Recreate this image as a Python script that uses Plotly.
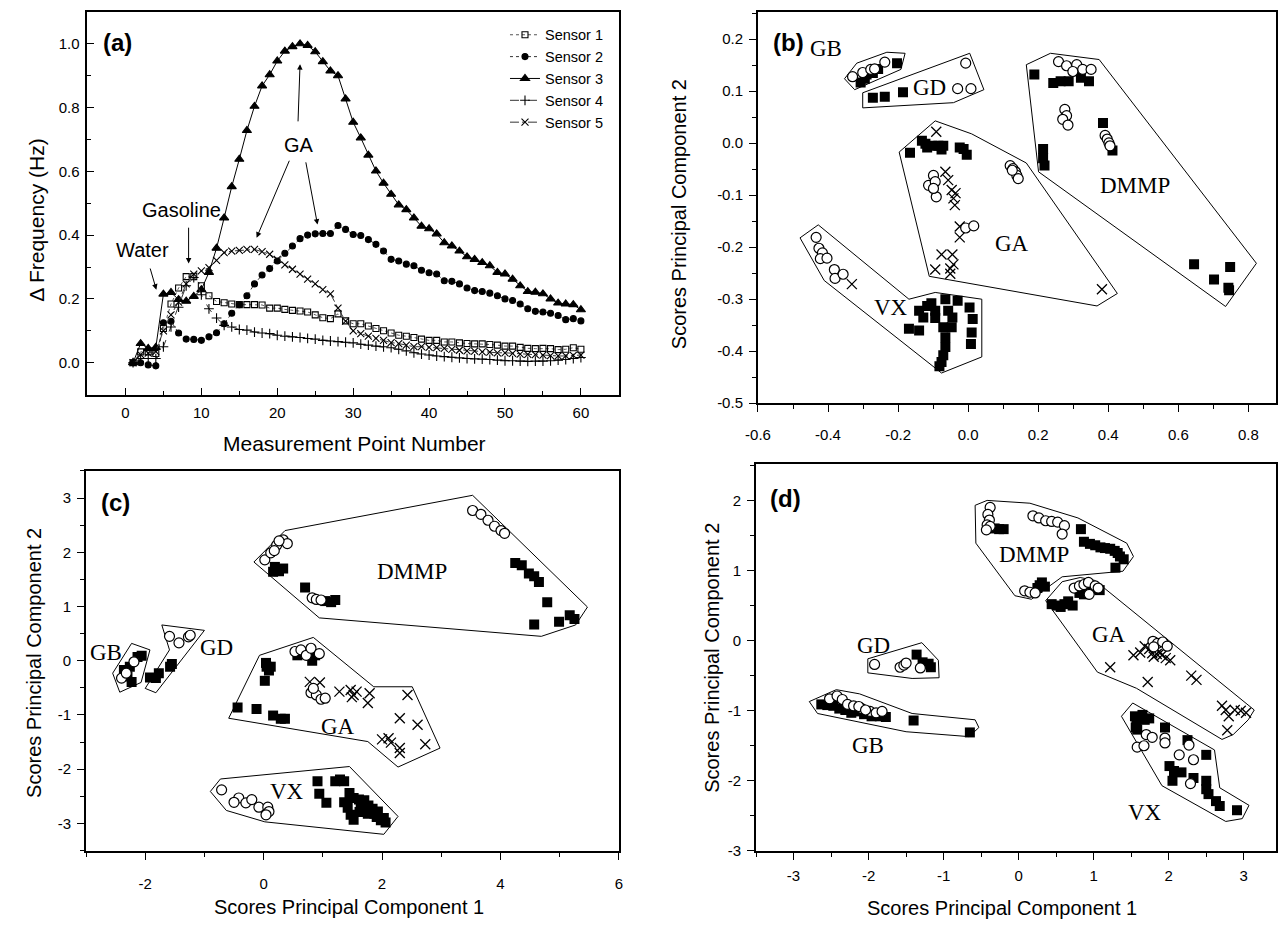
import numpy as np
import plotly.graph_objects as go

W, H = 1282, 926
SANS = "Liberation Sans, Arial, sans-serif"
SERIF = "Liberation Serif, Times New Roman, serif"

# ---------------- (a) sensor responses ----------------
POINTS = list(range(1, 61))
SENSOR_1 = [0, 0.034, 0.034, 0.029, 0.107, 0.184, 0.234, 0.27, 0.27, 0.241,
            0.21, 0.192, 0.188, 0.184, 0.182, 0.182, 0.182, 0.181, 0.171, 0.171,
            0.167, 0.164, 0.162, 0.159, 0.15, 0.141, 0.138, 0.153, 0.131, 0.122,
            0.122, 0.115, 0.107, 0.1, 0.093, 0.086, 0.083, 0.079, 0.074, 0.07,
            0.07, 0.065, 0.065, 0.062, 0.06, 0.059, 0.059, 0.057, 0.055, 0.052,
            0.052, 0.048, 0.045, 0.044, 0.045, 0.044, 0.041, 0.042, 0.047, 0.042]
SENSOR_2 = [0, 0, -0.007, -0.01, 0.125, 0.13, 0.093, 0.074, 0.073, 0.07,
            0.081, 0.094, 0.122, 0.155, 0.182, 0.21, 0.247, 0.275, 0.295, 0.319,
            0.343, 0.366, 0.389, 0.40, 0.404, 0.405, 0.405, 0.43, 0.418, 0.402,
            0.399, 0.386, 0.371, 0.35, 0.324, 0.319, 0.309, 0.304, 0.29, 0.282,
            0.278, 0.257, 0.255, 0.247, 0.234, 0.226, 0.223, 0.218, 0.21, 0.2,
            0.195, 0.184, 0.169, 0.161, 0.159, 0.155, 0.148, 0.135, 0.138, 0.131]
SENSOR_3 = [0, 0.06, 0.045, 0.048, 0.215, 0.22, 0.198, 0.193, 0.208, 0.229,
            0.283, 0.359, 0.454, 0.552, 0.638, 0.728, 0.804, 0.868, 0.903, 0.946,
            0.977, 0.991, 1.0, 0.995, 0.975, 0.944, 0.915, 0.90, 0.827, 0.754,
            0.705, 0.651, 0.601, 0.563, 0.528, 0.495, 0.48, 0.454, 0.428, 0.42,
            0.404, 0.376, 0.366, 0.35, 0.332, 0.324, 0.314, 0.304, 0.283, 0.278,
            0.262, 0.241, 0.223, 0.221, 0.216, 0.2, 0.187, 0.184, 0.182, 0.166]
SENSOR_4 = [0, 0.013, 0.013, 0.013, 0.05, 0.112, 0.174, 0.241, 0.267, 0.213,
            0.169, 0.14, 0.117, 0.112, 0.104, 0.102, 0.096, 0.093, 0.091, 0.086,
            0.083, 0.081, 0.079, 0.076, 0.074, 0.07, 0.068, 0.066, 0.064, 0.062,
            0.058, 0.055, 0.052, 0.05, 0.047, 0.042, 0.037, 0.031, 0.027, 0.024,
            0.021, 0.019, 0.017, 0.015, 0.013, 0.012, 0.011, 0.01, 0.008, 0.006,
            0.006, 0.005, 0.004, 0.005, 0.005, 0.006, 0.008, 0.01, 0.013, 0.016]
SENSOR_5 = [0, 0.025, 0.03, 0.035, 0.1, 0.15, 0.19, 0.247, 0.278, 0.288,
            0.298, 0.321, 0.345, 0.35, 0.352, 0.355, 0.355, 0.348, 0.34, 0.324,
            0.307, 0.293, 0.278, 0.262, 0.247, 0.229, 0.216, 0.171, 0.13, 0.10,
            0.091, 0.083, 0.076, 0.07, 0.063, 0.06, 0.055, 0.05, 0.05, 0.048,
            0.047, 0.045, 0.042, 0.039, 0.037, 0.036, 0.034, 0.033, 0.031, 0.031,
            0.029, 0.027, 0.026, 0.025, 0.024, 0.022, 0.021, 0.021, 0.023, 0.024]

# ---------------- (b) PCA scores ----------------
B_CIRCLE_X = [-0.330, -0.301, -0.278, -0.238, -0.267,
              -0.007, -0.030, 0.008,
              0.120, 0.128, 0.135, 0.139, 0.143, 0.126, -0.113, -0.099, -0.094, -0.091, -0.099, -0.007, 0.016,
              0.258, 0.281, 0.310, 0.327, 0.351, 0.299, 0.276, 0.281, 0.270, 0.285, 0.391, 0.397, 0.402, 0.405,
              -0.434, -0.426, -0.416, -0.422, -0.403, -0.382, -0.380, -0.357]
B_CIRCLE_Y = [0.128, 0.136, 0.142, 0.156, 0.143,
              0.154, 0.105, 0.105,
              -0.043, -0.049, -0.055, -0.062, -0.068, -0.052, -0.081, -0.062, -0.074, -0.103, -0.087, -0.163, -0.159,
              0.157, 0.149, 0.151, 0.142, 0.142, 0.138, 0.065, 0.053, 0.046, 0.035, 0.015, 0.008, 0.0005, -0.005,
              -0.181, -0.202, -0.211, -0.222, -0.221, -0.243, -0.260, -0.252]
B_SQUARE_X = [-0.307, -0.290, -0.272, -0.257, -0.203, -0.295,
              -0.272, -0.238, -0.186,
              -0.166, -0.132, -0.117, -0.102, -0.085, -0.071, -0.024, -0.013, -0.004, -0.122, -0.076,
              0.189, 0.243, 0.264, 0.287, 0.322, 0.345, 0.385, 0.412, 0.214, 0.214, 0.218, 0.645, 0.702, 0.748, 0.745, 0.743,
              -0.169, -0.140, -0.117, -0.105, -0.065, -0.030, 0.004, 0.013, 0.010, 0.008, -0.140, -0.128, -0.094,
              -0.071, -0.065, -0.065, -0.071, -0.076, -0.082, -0.047, -0.045, -0.057, -0.094]
B_SQUARE_Y = [0.117, 0.132, 0.135, 0.143, 0.154, 0.124,
              0.0876, 0.0895, 0.098,
              -0.0185, 0.005, -0.008, -0.005, -0.005, -0.005, -0.008, -0.011, -0.022, -0.001, -0.012,
              0.132, 0.116, 0.119, 0.119, 0.126, 0.119, 0.039, -0.014, -0.011, -0.029, -0.043, -0.233, -0.262, -0.238, -0.283, -0.278,
              -0.357, -0.322, -0.313, -0.308, -0.300, -0.303, -0.316, -0.338, -0.364, -0.386, -0.360, -0.335, -0.336,
              -0.354, -0.373, -0.392, -0.408, -0.421, -0.429, -0.354, -0.335, -0.322, -0.322]
B_CROSS_X = [-0.091, -0.065, -0.057, -0.047, -0.042, -0.038, -0.024, -0.024, -0.076, -0.094,
             -0.045, -0.042, -0.051, -0.051, 0.382, -0.036, -0.332]
B_CROSS_Y = [0.022, -0.055, -0.071, -0.090, -0.106, -0.119, -0.160, -0.181, -0.214, -0.243,
             -0.214, -0.233, -0.241, -0.251, -0.281, -0.096, -0.271]
B_HULL_GB = [(-0.353, 0.124), (-0.318, 0.154), (-0.232, 0.175), (-0.180, 0.173), (-0.192, 0.142), (-0.324, 0.103)]
B_HULL_GD = [(-0.301, 0.097), (0.0045, 0.173), (0.045, 0.103), (-0.042, 0.078), (-0.301, 0.068)]
B_HULL_GA = [(-0.197, -0.017), (-0.094, 0.043), (0.010, 0.018), (0.166, -0.038), (0.426, -0.289),
             (0.368, -0.313), (-0.111, -0.256)]
B_HULL_DMMP = [(0.166, 0.151), (0.235, 0.173), (0.374, 0.161), (0.823, -0.231), (0.735, -0.314), (0.201, -0.055)]
B_HULL_VX = [(-0.480, -0.182), (-0.428, -0.157), (-0.169, -0.300), (-0.094, -0.287), (0.039, -0.300),
             (0.039, -0.411), (-0.076, -0.442), (-0.411, -0.264)]
B_LABELS = [("GB", -0.405, 0.183), ("GD", -0.111, 0.108), ("GA", 0.126, -0.192),
            ("DMMP", 0.477, -0.081), ("VX", -0.220, -0.316)]

# ---------------- (c) PCA scores ----------------
C_CIRCLE_X = [0.02, 0.12, 0.22, 0.33, 0.40, 0.26, 0.18, 0.82, 0.89, 0.97,
              3.53, 3.67, 3.79, 3.90, 4.01, 4.07,
              -2.40, -2.32, -2.19,
              -1.59, -1.43, -1.27, -1.24,
              0.53, 0.63, 0.72, 0.80, 0.94, 0.80, 0.89, 0.97, 1.04, 0.84,
              -0.71, -0.42, -0.30, -0.20, -0.08, 0.07, 0.09, 0.04, -0.50]
C_CIRCLE_Y = [1.86, 1.99, 2.13, 2.23, 2.16, 2.21, 2.03, 1.16, 1.13, 1.12,
              2.77, 2.70, 2.59, 2.48, 2.40, 2.35,
              -0.32, -0.23, -0.02,
              0.45, 0.33, 0.44, 0.47,
              0.17, 0.20, 0.10, 0.23, 0.13, -0.59, -0.63, -0.71, -0.69, -0.51,
              -2.38, -2.53, -2.62, -2.56, -2.70, -2.70, -2.78, -2.84, -2.61]
C_SQUARE_X = [0.19, 0.26, 0.33, 0.16, 0.70, 1.04, 1.14, 1.21,
              4.25, 4.36, 4.48, 4.57, 4.65, 4.79, 4.57, 4.99, 5.17, 5.25,
              -2.36, -2.26, -2.13, -2.06, -2.23, -2.30,
              -1.92, -1.82, -1.58, -1.55, -1.77,
              -0.44, -0.12, 0.16, 0.29, 0.36, 0.02, 0.05, 0.09, 0.04, 0.12, 0.57, 0.61, 0.82, 0.87,
              0.91, 0.94, 1.06, 1.21, 1.29, 1.36, 1.45, 1.52, 1.61, 1.64, 1.70, 1.77, 1.84, 1.87,
              1.91, 1.98, 2.03, 2.06, 1.42, 1.47, 1.52, 1.36, 1.62, 1.76, 1.93]
C_SQUARE_Y = [1.73, 1.65, 1.70, 1.64, 1.35, 1.10, 1.08, 1.12,
              1.80, 1.76, 1.61, 1.56, 1.45, 1.08, 0.67, 0.72, 0.84, 0.77,
              -0.17, -0.11, 0.07, 0.09, -0.39, -0.29,
              -0.31, -0.32, -0.11, -0.06, -0.23,
              -0.86, -0.89, -1.01, -1.07, -1.07, -0.37, -0.11, -0.18, -0.04, -0.11, 0.10, 0.13, 0.00, 0.10,
              -2.22, -2.45, -2.62, -2.22, -2.19, -2.22, -2.44, -2.53, -2.56, -2.67, -2.57, -2.67, -2.73, -2.82,
              -2.88, -2.94, -2.90, -2.98, -2.71, -2.84, -2.93, -2.61, -2.79, -2.82, -2.78]
C_CROSS_X = [0.78, 0.95, 1.28, 1.47, 1.52, 1.57, 1.49, 1.79, 1.76, 2.43, 2.30, 2.60,
             2.00, 2.11, 2.15, 2.30, 2.30, 2.73]
C_CROSS_Y = [-0.39, -0.40, -0.57, -0.54, -0.63, -0.57, -0.67, -0.60, -0.78, -0.63, -1.06, -1.18,
             -1.45, -1.43, -1.51, -1.61, -1.70, -1.54]
C_HULL_DMMP = [(-0.164, 1.82), (0.361, 2.40), (3.53, 3.05), (5.47, 0.99), (5.27, 0.66), (4.69, 0.45), (0.94, 0.79)]
C_HULL_GB = [(-2.55, -0.23), (-2.23, 0.32), (-1.92, 0.20), (-2.07, -0.40), (-2.43, -0.58)]
C_HULL_GD = [(-2.00, -0.51), (-1.59, 0.20), (-1.72, 0.66), (-1.00, 0.56), (-1.82, -0.59)]
C_HULL_GA = [(-0.59, -1.06), (-0.07, 0.10), (0.84, 0.43), (1.86, -0.48), (2.51, -0.48), (2.98, -1.61),
             (2.27, -1.96), (1.76, -1.49)]
C_HULL_VX = [(-0.90, -2.41), (-0.73, -2.18), (1.45, -1.95), (2.27, -2.87), (2.03, -3.20), (0.02, -2.97),
             (-0.63, -2.76)]
C_LABELS = [("DMMP", 2.51, 1.64), ("GB", -2.66, 0.15), ("GD", -0.80, 0.24),
            ("GA", 1.25, -1.21), ("VX", 0.40, -2.41)]

# ---------------- (d) PCA scores ----------------
D_CIRCLE_X = [-1.92, -1.58, -1.53, -1.50, -1.31,
              -2.52, -2.42, -2.35, -2.28, -2.20, -2.09, -1.98, -1.90, -1.82, -2.13, -2.04,
              -0.38, -0.41, -0.39, -0.42, -0.38, -0.43, 0.19, 0.27, 0.36, 0.44, 0.52, 0.61, 0.58,
              0.08, 0.15, 0.22,
              0.74, 0.81, 0.87, 0.93, 0.94, 1.02, 1.06, 1.79, 1.85, 1.92, 1.98, 1.80,
              1.58, 1.67, 1.70, 1.78, 1.95, 1.95, 2.14, 2.27, 2.33, 2.29]
D_CIRCLE_Y = [-0.34, -0.38, -0.35, -0.32, -0.39,
              -0.83, -0.79, -0.84, -0.91, -0.93, -0.97, -1.01, -1.03, -1.01, -0.94, -0.99,
              1.90, 1.80, 1.72, 1.65, 1.63, 1.58, 1.78, 1.75, 1.71, 1.70, 1.69, 1.64, 1.52,
              0.71, 0.69, 0.68,
              0.75, 0.78, 0.80, 0.83, 0.66, 0.78, 0.75, -0.01, -0.04, -0.02, -0.08, -0.09,
              -1.52, -1.50, -1.34, -1.38, -1.39, -1.46, -1.63, -1.49, -1.70, -2.04]
D_SQUARE_X = [-1.36, -1.20, -1.17, -1.28,
              -2.63, -2.55, -2.47, -2.39, -2.31, -2.23, -2.15, -2.06, -1.96, -1.85, -1.77, -1.40, -0.65,
              -0.32, -0.26, -0.20, 0.83, 0.87, 0.95, 1.02, 1.09, 1.15, 1.22, 1.28, 1.32, 1.35, 1.40, 1.29,
              0.28, 0.35, 0.31, 0.25,
              0.44, 0.51, 0.56, 0.61, 0.66, 0.72, 0.81, 0.87, 0.93, 1.01, 1.08,
              1.55, 1.57, 1.60, 1.56, 1.65, 1.74, 1.95, 2.25, 2.01, 2.07, 2.17, 2.05, 2.33, 2.50,
              2.50, 2.50, 2.53, 2.63, 2.68, 2.91, 1.68, 1.58]
D_SQUARE_Y = [-0.20, -0.33, -0.38, -0.31,
              -0.91, -0.92, -0.93, -0.97, -0.99, -1.03, -1.01, -1.05, -1.08, -1.08, -1.09, -1.14, -1.31,
              1.60, 1.59, 1.59, 1.59, 1.41, 1.38, 1.36, 1.33, 1.32, 1.31, 1.28, 1.25, 1.20, 1.16, 1.04,
              0.79, 0.77, 0.83, 0.75,
              0.52, 0.50, 0.48, 0.52, 0.56, 0.50, 0.68, 0.66, 0.70, 0.73, 0.72,
              -1.08, -1.16, -1.11, -1.24, -1.06, -1.11, -1.24, -1.42, -1.79, -1.86, -1.88, -2.00, -1.96, -1.63,
              -2.00, -2.12, -2.19, -2.29, -2.36, -2.42, -1.13, -1.27]
D_CROSS_X = [1.22, 1.53, 1.62, 1.68, 1.74, 1.78, 1.80, 1.84, 1.89, 1.91, 1.96, 2.02, 1.72,
             2.30, 2.37, 2.71, 2.76, 2.80, 2.88, 2.96, 3.03, 2.78]
D_CROSS_Y = [-0.38, -0.21, -0.17, -0.08, -0.12, -0.18, -0.23, -0.19, -0.17, -0.21, -0.25, -0.28, -0.59,
             -0.50, -0.56, -0.93, -0.99, -1.08, -0.99, -1.00, -1.03, -1.28]
D_HULL_GD = [(-2.01, -0.26), (-1.29, -0.03), (-1.07, -0.28), (-1.06, -0.53), (-1.42, -0.54), (-2.01, -0.46)]
D_HULL_GB = [(-2.79, -0.87), (-2.43, -0.70), (-2.12, -0.76), (-1.42, -1.04), (-0.58, -1.13), (-0.53, -1.24),
             (-0.66, -1.37), (-1.50, -1.30), (-2.68, -1.04)]
D_HULL_DMMP = [(-0.58, 1.93), (-0.42, 2.00), (0.15, 1.96), (0.79, 1.75), (1.44, 1.39), (1.53, 1.20),
               (1.39, 0.99), (0.58, 0.91), (0.17, 0.59), (-0.05, 0.64), (-0.57, 1.39)]
D_HULL_GA = [(0.36, 0.57), (0.58, 0.84), (0.82, 0.90), (1.01, 0.86), (1.14, 0.75), (3.14, -0.99),
             (3.06, -1.13), (2.86, -1.34), (2.71, -1.41), (1.57, -0.68), (1.05, -0.45)]
D_HULL_VX = [(1.37, -1.08), (1.52, -0.89), (2.61, -1.56), (2.68, -2.10), (3.07, -2.35), (2.98, -2.54),
             (2.76, -2.58), (1.91, -2.07)]
D_LABELS = [("GD", -1.93, -0.07), ("GB", -2.01, -1.50), ("DMMP", 0.20, 1.23),
            ("GA", 1.20, 0.09), ("VX", 1.68, -2.45)]

# Tick values (labels printed with a plain hyphen minus)
A_XTICKS = [0, 10, 20, 30, 40, 50, 60]
A_YTICKS = [0.0, 0.2, 0.4, 0.6, 0.8, 1.0]
B_XTICKS = [-0.6, -0.4, -0.2, 0.0, 0.2, 0.4, 0.6, 0.8]
B_YTICKS = [-0.5, -0.4, -0.3, -0.2, -0.1, 0.0, 0.1, 0.2]
C_XTICKS = [-2, 0, 2, 4, 6]
C_YTICKS = [-3, -2, -1, 0, 1, 2, 3]
D_XTICKS = [-3, -2, -1, 0, 1, 2, 3]
D_YTICKS = [-3, -2, -1, 0, 1, 2]


def px_x(p):
    return p / W


def px_y(p):
    return 1 - p / H


def fmt(vals, dec):
    return [f"{v:.{dec}f}".replace("\u2212", "-") for v in vals]


def axis(domain, rng, ticks, dec, minor_step, inside=False, standoff=3, anchor=None):
    side = "inside" if inside else "outside"
    lo, hi = min(rng), max(rng)
    first = np.ceil(lo / minor_step - 1e-9) * minor_step
    minor_vals = [round(v, 6) for v in np.arange(first, hi + 1e-9, minor_step)]
    return dict(
        domain=domain, range=rng, anchor=anchor,
        showline=True, linewidth=2, linecolor="black", mirror=True,
        showgrid=False, zeroline=False,
        tickmode="array", tickvals=ticks, ticktext=fmt(ticks, dec),
        ticks=side, ticklen=7, tickwidth=1.4, tickcolor="black",
        ticklabelstandoff=standoff,
        tickfont=dict(family=SANS, size=15, color="black"),
        minor=dict(tickmode="array", tickvals=minor_vals, ticks=side, ticklen=4,
                   tickwidth=1.2, tickcolor="black"),
    )


fig = go.Figure()

# ---- (a) line traces ----
styles = [
    ("Sensor 1", SENSOR_1, "square-open", 6, "dot", "#555"),
    ("Sensor 2", SENSOR_2, "circle", 6, "dot", "#333"),
    ("Sensor 3", SENSOR_3, "triangle-up", 8, "solid", "#000"),
    ("Sensor 4", SENSOR_4, "cross-thin-open", 7, "dash", "#333"),
    ("Sensor 5", SENSOR_5, "x-thin-open", 7, "dashdot", "#333"),
]
for name, vals, sym, size, dash, col in styles:
    fig.add_trace(go.Scatter(
        x=POINTS, y=vals, name=name, mode="lines+markers", xaxis="x", yaxis="y",
        legendgroup=name,
        line=dict(color=col, width=1, dash=dash),
        marker=dict(symbol=sym, size=size, color="black",
                    line=dict(color="black", width=1.1)),
    ))


def add_scores(xa, ya, cx, cy, sx, sy, kx, ky, hulls, labels):
    for hull in hulls:
        hx = [p[0] for p in hull] + [hull[0][0]]
        hy = [p[1] for p in hull] + [hull[0][1]]
        fig.add_trace(go.Scatter(x=hx, y=hy, mode="lines", xaxis=xa, yaxis=ya, showlegend=False,
                                 line=dict(color="black", width=1), hoverinfo="skip"))
    fig.add_trace(go.Scatter(x=sx, y=sy, mode="markers", xaxis=xa, yaxis=ya, showlegend=False,
                             marker=dict(symbol="square", size=10, color="black")))
    fig.add_trace(go.Scatter(x=kx, y=ky, mode="markers", xaxis=xa, yaxis=ya, showlegend=False,
                             marker=dict(symbol="x-thin-open", size=10, color="black",
                                         line=dict(color="black", width=1.3))))
    fig.add_trace(go.Scatter(x=cx, y=cy, mode="markers", xaxis=xa, yaxis=ya, showlegend=False,
                             marker=dict(symbol="circle", size=10, color="white",
                                         line=dict(color="black", width=1.2))))
    for text, lx, ly in labels:
        fig.add_annotation(x=lx, y=ly, xref=xa, yref=ya, text=text, showarrow=False,
                           xanchor="center", yanchor="middle",
                           font=dict(family=SERIF, size=23, color="black"))


add_scores("x2", "y2", B_CIRCLE_X, B_CIRCLE_Y, B_SQUARE_X, B_SQUARE_Y, B_CROSS_X, B_CROSS_Y,
           [B_HULL_GB, B_HULL_GD, B_HULL_GA, B_HULL_DMMP, B_HULL_VX], B_LABELS)
add_scores("x3", "y3", C_CIRCLE_X, C_CIRCLE_Y, C_SQUARE_X, C_SQUARE_Y, C_CROSS_X, C_CROSS_Y,
           [C_HULL_DMMP, C_HULL_GB, C_HULL_GD, C_HULL_GA, C_HULL_VX], C_LABELS)
add_scores("x4", "y4", D_CIRCLE_X, D_CIRCLE_Y, D_SQUARE_X, D_SQUARE_Y, D_CROSS_X, D_CROSS_Y,
           [D_HULL_GD, D_HULL_GB, D_HULL_DMMP, D_HULL_GA, D_HULL_VX], D_LABELS)

# ---- (a) annotations with arrows ----
arrows = [
    ((4.07, 0.229), (3.2, 0.30)),
    ((8.32, 0.311), (8.32, 0.428)),
    ((23.0, 0.936), (22.73, 0.752)),
    ((17.28, 0.392), (21.67, 0.638)),
    ((25.3, 0.433), (23.73, 0.633)),
]
for (tx, ty), (ax, ay) in arrows:
    fig.add_annotation(x=tx, y=ty, ax=ax, ay=ay, xref="x", yref="y", axref="x", ayref="y",
                       text="", showarrow=True, arrowhead=2, arrowsize=1.1, arrowwidth=1,
                       arrowcolor="black", standoff=0, startstandoff=0)
for text, tx, ty in [("Water", 2.25, 0.352), ("Gasoline", 7.33, 0.48), ("GA", 22.83, 0.682)]:
    fig.add_annotation(x=tx, y=ty, xref="x", yref="y", text=text, showarrow=False,
                       xanchor="center", yanchor="middle",
                       font=dict(family=SANS, size=20, color="black"))

# ---- panel letters ----
for text, x, y in [("(a)", 106, 43), ("(b)", 786, 43), ("(c)", 104, 507), ("(d)", 783, 503)]:
    fig.add_annotation(x=px_x(x), y=px_y(y), xref="paper", yref="paper", text=f"<b>{text}</b>",
                       showarrow=False, xanchor="center", yanchor="middle",
                       font=dict(family=SANS, size=24, color="black"))

# ---- axis titles ----
titles = [
    ("Measurement Point Number", 346, 447, 0, 21),
    ("\u0394 Frequency (Hz)", 23, 222, -90, 21),
    ("Scores Principal Component 2", 675, 216, -90, 20),
    ("Scores Principal Component 1", 341, 915, 0, 20),
    ("Scores Principal Component 2", 22, 669, -90, 20),
    ("Scores Principal Component 1", 1002, 916, 0, 20),
    ("Scores Principal Component 2", 709, 664, -90, 20),
]
for text, x, y, ang, size in titles:
    fig.add_annotation(x=px_x(x), y=px_y(y), xref="paper", yref="paper", text=text,
                       showarrow=False, textangle=ang, xanchor="center", yanchor="middle",
                       font=dict(family=SANS, size=size, color="black"))

fig.update_layout(
    width=W, height=H, margin=dict(l=0, r=0, t=0, b=0),
    paper_bgcolor="white", plot_bgcolor="white",
    showlegend=True,
    legend=dict(x=px_x(604), xanchor="right", y=px_y(19), yanchor="top",
                font=dict(family=SANS, size=14.5, color="black"),
                bgcolor="rgba(0,0,0,0)", tracegroupgap=0, itemwidth=30),
    xaxis=axis([px_x(75.5), px_x(614)], [-5, 65], A_XTICKS, 0, 5, inside=True, anchor="y"),
    yaxis=axis([px_y(398), px_y(12)], [-0.1, 1.1], A_YTICKS, 1, 0.1, inside=True, anchor="x"),
    xaxis2=axis([px_x(755), px_x(1280)], [-0.6, 0.879], B_XTICKS, 1, 0.1, standoff=10, anchor="y2"),
    yaxis2=axis([px_y(406.7), px_y(12)], [-0.5, 0.2526], B_YTICKS, 1, 0.05, anchor="x2"),
    xaxis3=axis([px_x(74), px_x(614)], [-3, 6], C_XTICKS, 0, 1, standoff=11, anchor="y3"),
    yaxis3=axis([px_y(858), px_y(475)], [-3.5, 3.5], C_YTICKS, 0, 0.5, anchor="x3"),
    xaxis4=axis([px_x(753), px_x(1280)], [-3.5, 3.43], D_XTICKS, 0, 0.5, anchor="y4"),
    yaxis4=axis([px_y(858.3), px_y(468)], [-3, 2.52], D_YTICKS, 0, 0.5, anchor="x4"),
)

fig.write_html("out.html")
